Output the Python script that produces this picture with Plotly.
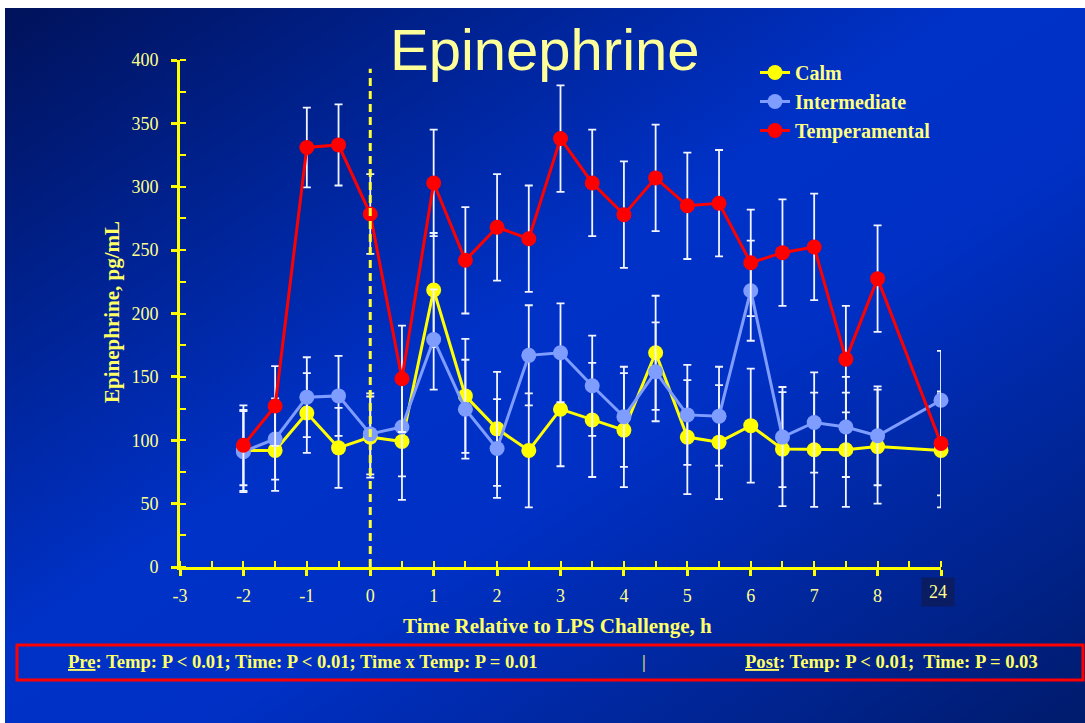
import base64
import plotly.graph_objects as go

# ---------------- data ----------------
time_h = [-2, -1.5, -1, -0.5, 0, 0.5, 1, 1.5, 2, 2.5, 3, 3.5, 4, 4.5, 5, 5.5, 6, 6.5, 7, 7.5, 8, 24]
calm = [92, 92, 121.5, 94, 102.5, 99, 218.5, 135, 109, 92, 124.5, 116, 108, 169, 102.5, 98.5, 111.5, 93, 92.5, 92.5, 95, 92]
calm_se = [32, 32, 31.5, 31.5, 32, 46, 45, 45, 45, 45, 45, 45, 45, 45, 45, 45, 45, 45, 45, 45, 45, 45]
inter = [91, 101, 134, 135, 105, 110.5, 179.5, 124.5, 93.5, 167, 169, 143, 118.5, 154, 120, 119, 218, 102.5, 114, 110.5, 103.5, 131.5]
inter_se = [32, 32, 31.5, 31.5, 32, 39, 39.5, 39, 39, 39.5, 39, 39.5, 39.5, 39, 39.5, 39, 39.5, 39.5, 39.5, 39.5, 39, 39]
temp = [96, 127, 331, 333, 278.5, 148.5, 303, 242, 268, 259, 338, 303, 278, 307, 285, 287, 240, 248, 252.5, 164, 227.5, 97.5]
temp_se = [31.5, 31.5, 31.5, 32, 31.5, 42, 42, 42, 42, 42, 42, 42, 42, 42, 42, 42, 42, 42, 42, 42, 42, 41]

x_tick_vals = [-3, -2, -1, 0, 1, 2, 3, 4, 5, 6, 7, 8, 9]
x_tick_text = ["-3", "-2", "-1", "0", "1", "2", "3", "4", "5", "6", "7", "8", ""]
y_tick_vals = [0, 50, 100, 150, 200, 250, 300, 350, 400]

# broken axis: 24 h is drawn at slot 9
pos = [t if t <= 8 else 9 for t in time_h]

series = [
    ("Calm", calm, calm_se, "#ffff00"),
    ("Intermediate", inter, inter_se, "#7f9cff"),
    ("Temperamental", temp, temp_se, "#ff0000"),
]

W, H = 1085, 723
L, R, T, B = 180, 144, 60, 156
PW, PH = W - L - R, H - T - B


def px(xp):
    return (xp - L) / PW


def py(yp):
    return (H - B - yp) / PH


fig = go.Figure()
for i, (name, vals, se, col) in enumerate(series):
    fig.add_trace(go.Scatter(
        x=pos, y=vals, name="<b>" + name + "</b>", mode="lines+markers",
        line=dict(color=col, width=3),
        marker=dict(color=col, size=15),
        error_y=dict(type="data", array=se, visible=True,
                     color="#f2f4ff", thickness=1.8, width=4),
        legendgroup=name, cliponaxis=False,
    ))

svg = (
    '<svg xmlns="http://www.w3.org/2000/svg" width="1080" height="715" preserveAspectRatio="none" viewBox="0 0 1080 715">'
    '<defs><linearGradient id="g" x1="0" y1="0" x2="1" y2="1">'
    '<stop offset="0" stop-color="#00125a"/>'
    '<stop offset="0.45" stop-color="#0032c8"/>'
    '<stop offset="0.6" stop-color="#0030c4"/>'
    '<stop offset="1" stop-color="#001b6c"/>'
    '</linearGradient></defs>'
    '<rect width="1080" height="715" fill="url(#g)"/></svg>'
)
src = "data:image/svg+xml;base64," + base64.b64encode(svg.encode()).decode()

tick_font = dict(family="Liberation Serif", size=18, color="#ffff8c")
title_font = dict(family="Liberation Serif", size=21, color="#ffff66")
note_font = dict(family="Liberation Serif", size=18.6, color="#ffff66")

fig.update_layout(
    width=W, height=H,
    margin=dict(l=L, r=R, t=T, b=B, pad=0),
    paper_bgcolor="white",
    plot_bgcolor="rgba(0,0,0,0)",
    images=[dict(source=src, xref="paper", yref="paper",
                 x=px(5), y=py(8), sizex=1080 / PW, sizey=715 / PH,
                 xanchor="left", yanchor="top", sizing="stretch", layer="below")],
    showlegend=True,
    legend=dict(x=px(755), y=py(53), xanchor="left", yanchor="top",
                bgcolor="rgba(0,0,0,0)", tracegroupgap=0,
                font=dict(family="Liberation Serif", size=20, color="#ffff80"),
                itemwidth=30),
    xaxis=dict(range=[-3, 9], tickvals=x_tick_vals, ticktext=x_tick_text,
               showgrid=False, zeroline=False, showline=True,
               linecolor="#ffff00", linewidth=3,
               ticks="outside", ticklen=6, tickwidth=3, tickcolor="#ffff00",
               minor=dict(dtick=0.5, tick0=0, ticks="inside", ticklen=6, tickwidth=2, tickcolor="#ffff00"),
               tickfont=tick_font, ticklabelstandoff=4),
    yaxis=dict(range=[0, 400], tickvals=y_tick_vals,
               showgrid=False, zeroline=False, showline=True,
               linecolor="#ffff00", linewidth=3,
               ticks="outside", ticklen=6, tickwidth=3, tickcolor="#ffff00",
               minor=dict(dtick=25, tick0=0, ticks="inside", ticklen=6, tickwidth=2, tickcolor="#ffff00"),
               tickfont=tick_font, ticklabelstandoff=9),
    shapes=[
        dict(type="line", xref="x", yref="y", x0=0, x1=0, y0=0, y1=393,
             line=dict(color="#ffff33", width=3, dash="8px,5px"), layer="above"),
        dict(type="rect", xref="paper", yref="paper",
             x0=px(17), x1=px(1083), y0=py(645), y1=py(680),
             line=dict(color="#ff0000", width=3), fillcolor="rgba(0,0,0,0)"),
    ],
    annotations=[
        dict(text="Epinephrine", xref="paper", yref="paper", x=px(545), y=py(50),
             showarrow=False, xanchor="center", yanchor="middle",
             font=dict(family="Liberation Sans", size=58, color="#ffff99")),
        dict(text="<b>Epinephrine, pg/mL</b>", xref="paper", yref="paper",
             x=px(112), y=py(312), textangle=-90, showarrow=False,
             xanchor="center", yanchor="middle", font=title_font),
        dict(text="<b>Time Relative to LPS Challenge, h</b>", xref="paper", yref="paper",
             x=px(557), y=py(626), showarrow=False,
             xanchor="center", yanchor="middle", font=title_font),
        dict(text="24", xref="x", yref="paper", x=9, y=py(591.5), showarrow=False,
             xanchor="center", yanchor="middle", xshift=-3,
             bgcolor="#0a1d62", width=30, height=26,
             font=tick_font),
        dict(text="<b><u>Pre</u>: Temp: P &lt; 0.01; Time: P &lt; 0.01; Time x Temp: P = 0.01</b>",
             xref="paper", yref="paper", x=px(66), y=py(661), showarrow=False,
             xanchor="left", yanchor="middle", font=note_font),
        dict(text="|", xref="paper", yref="paper", x=px(644), y=py(661), showarrow=False,
             xanchor="center", yanchor="middle", font=note_font),
        dict(text="<b><u>Post</u>: Temp: P &lt; 0.01;  Time: P = 0.03</b>",
             xref="paper", yref="paper", x=px(743), y=py(661), showarrow=False,
             xanchor="left", yanchor="middle", font=note_font),
    ],
)

fig.write_html("out.html")
